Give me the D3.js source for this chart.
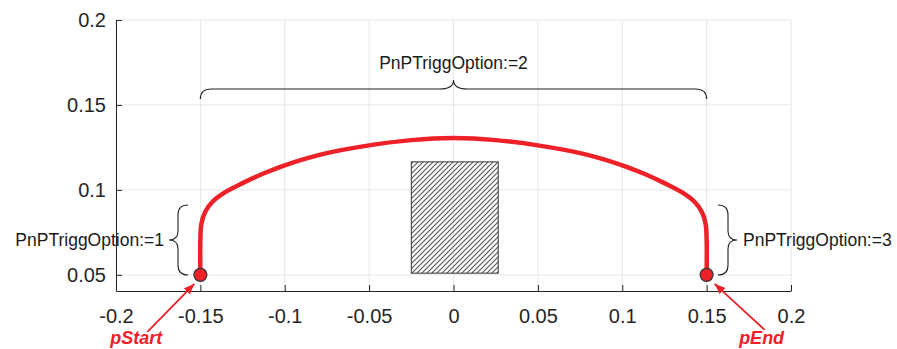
<!DOCTYPE html>
<html>
<head>
<meta charset="utf-8">
<script src="https://cdn.jsdelivr.net/npm/d3@7"></script>
<style>
  body { margin: 0; background: #fff; }
  text { font-family: "Liberation Sans", Arial, sans-serif; }
</style>
</head>
<body>
<div id="chart"></div>
<script>
// path of the tool between the two points
const pathX = [-0.15, -0.15, -0.1494, -0.1472, -0.1428, -0.1355, -0.125, -0.113, -0.100, -0.077, -0.050, -0.025, 0,
               0.025, 0.050, 0.077, 0.100, 0.113, 0.125, 0.1355, 0.1428, 0.1472, 0.1494, 0.15, 0.15];
const pathY = [0.05, 0.071, 0.080, 0.0870, 0.0930, 0.0985, 0.1040, 0.1095, 0.1145, 0.1212, 0.1262, 0.1293, 0.1305,
               0.1293, 0.1262, 0.1212, 0.1145, 0.1095, 0.1040, 0.0985, 0.0930, 0.0870, 0.080, 0.071, 0.05];

// obstacle (hatched box)
const boxX = [-0.025, 0.0265];
const boxY = [0.051, 0.1165];

// start / end points
const pointNames = ["pStart", "pEnd"];
const pointX = [-0.15, 0.15];
const pointY = [0.05, 0.05];

const xTicks = [-0.2, -0.15, -0.1, -0.05, 0, 0.05, 0.1, 0.15, 0.2];
const xTickLabels = ["-0.2", "-0.15", "-0.1", "-0.05", "0", "0.05", "0.1", "0.15", "0.2"];
const yTicks = [0.05, 0.1, 0.15, 0.2];
const yTickLabels = ["0.05", "0.1", "0.15", "0.2"];

const width = 897, height = 349,
      margin = ({top: 20, right: 106, bottom: 58, left: 116});

const red = "#ee2028", ink = "#262626";

let svg = d3.select("#chart")
    .append("svg")
    .attr("width", width)
    .attr("height", height)
    .attr("viewBox", [0, 0, width, height]);

let x = d3.scaleLinear()
    .domain([-0.2, 0.2])
    .range([margin.left, width - margin.right]);

let y = d3.scaleLinear()
    .domain([0.0405, 0.2])
    .range([height - margin.bottom, margin.top]);

// grid
svg.append("g")
    .selectAll("line")
    .data(xTicks)
    .join("line")
    .attr("x1", d => x(d)).attr("x2", d => x(d))
    .attr("y1", y.range()[0]).attr("y2", y.range()[1])
    .attr("stroke", "#e6e6e6");

svg.append("g")
    .selectAll("line")
    .data(yTicks)
    .join("line")
    .attr("x1", x.range()[0]).attr("x2", x.range()[1])
    .attr("y1", d => y(d)).attr("y2", d => y(d))
    .attr("stroke", "#e6e6e6");

// axes, ticks inside like matlab
let xAxis = svg.append("g")
    .attr("transform", `translate(0,${y.range()[0]})`)
    .call(d3.axisBottom(x)
        .tickValues(xTicks)
        .tickFormat((d, i) => xTickLabels[i])
        .tickSize(-6)
        .tickSizeOuter(0)
        .tickPadding(18));

let yAxis = svg.append("g")
    .attr("transform", `translate(${x.range()[0]},0)`)
    .call(d3.axisLeft(y)
        .tickValues(yTicks)
        .tickFormat((d, i) => yTickLabels[i])
        .tickSize(-6)
        .tickSizeOuter(0)
        .tickPadding(10));

for (let ax of [xAxis, yAxis]) {
    ax.selectAll("path, line").attr("stroke", ink);
    ax.selectAll("text")
        .attr("fill", ink)
        .style("font-size", "20px")
        .style("font-family", "'Liberation Sans', Arial, sans-serif");
}

// hatched obstacle
let defs = svg.append("defs");
defs.append("pattern")
    .attr("id", "hatch")
    .attr("patternUnits", "userSpaceOnUse")
    .attr("width", 5)
    .attr("height", 5)
    .append("path")
    .attr("d", "M0,5 L5,0 M-1,1 L1,-1 M4,6 L6,4")
    .attr("stroke", "#5a5a5a")
    .attr("stroke-width", 1.2);

svg.append("rect")
    .attr("x", x(boxX[0]))
    .attr("y", y(boxY[1]))
    .attr("width", x(boxX[1]) - x(boxX[0]))
    .attr("height", y(boxY[0]) - y(boxY[1]))
    .attr("fill", "url(#hatch)")
    .attr("stroke", "#333")
    .attr("stroke-width", 1);

// tool path
let line = d3.line()
    .x(d => x(d[0]))
    .y(d => y(d[1]))
    .curve(d3.curveCatmullRom.alpha(0.5));

svg.append("path")
    .datum(pathX.map((v, i) => [v, pathY[i]]))
    .attr("d", line)
    .attr("fill", "none")
    .attr("stroke", red)
    .attr("stroke-width", 4.5)
    .attr("stroke-linecap", "round")
    .attr("stroke-linejoin", "round");

// braces
let braceG = svg.append("g")
    .attr("fill", "none")
    .attr("stroke", "#222")
    .attr("stroke-width", 1.1);

// top brace
{
    let x1 = x(-0.15), x2 = x(0.15), xm = (x1 + x2) / 2;
    let yEnd = 99, yH = 89, yTip = 80, r = 11;
    braceG.append("path").attr("d",
        `M${x1},${yEnd} Q${x1},${yH} ${x1 + r},${yH} L${xm - 14},${yH} ` +
        `Q${xm},${yH} ${xm},${yTip} Q${xm},${yH} ${xm + 14},${yH} ` +
        `L${x2 - r},${yH} Q${x2},${yH} ${x2},${yEnd}`);
}
// left and right braces
for (let side of [-1, 1]) {
    let xe = side < 0 ? 188 : 718, xs = xe + side * 10, xt = xs + side * 9;
    let y1 = 205, y2 = 275, ym = (y1 + y2) / 2;
    braceG.append("path").attr("d",
        `M${xe},${y1} Q${xs},${y1} ${xs},${y1 + 10} L${xs},${ym - 9} ` +
        `Q${xs},${ym} ${xt},${ym} Q${xs},${ym} ${xs},${ym + 9} ` +
        `L${xs},${y2 - 10} Q${xs},${y2} ${xe},${y2}`);
}

let labelG = svg.append("g")
    .attr("fill", "#1a1a1a")
    .style("font-size", "17.5px");
labelG.append("text").attr("x", x(0)).attr("y", 69).attr("text-anchor", "middle").text("PnPTriggOption:=2");
labelG.append("text").attr("x", 164).attr("y", 246).attr("text-anchor", "end").text("PnPTriggOption:=1");
labelG.append("text").attr("x", 743).attr("y", 246).attr("text-anchor", "start").text("PnPTriggOption:=3");

// arrows to the points
defs.append("marker")
    .attr("id", "head")
    .attr("viewBox", "0 0 10 10")
    .attr("refX", 10).attr("refY", 5)
    .attr("markerWidth", 6).attr("markerHeight", 6)
    .attr("markerUnits", "strokeWidth")
    .attr("orient", "auto")
    .append("path")
    .attr("d", "M0,1 L10,5 L0,9 Z")
    .attr("fill", red);

const arrowTail = [[-53, 57], [58, 55]];
const arrowTip = [[-6, 9], [8, 9]];
const labelPos = [[-64, 69.5], [55, 69.5]];

pointNames.forEach((name, i) => {
    let px = x(pointX[i]), py = y(pointY[i]);
    svg.append("line")
        .attr("x1", px + arrowTail[i][0]).attr("y1", py + arrowTail[i][1])
        .attr("x2", px + arrowTip[i][0]).attr("y2", py + arrowTip[i][1])
        .attr("stroke", red)
        .attr("stroke-width", 1.8)
        .attr("marker-end", "url(#head)");
    svg.append("text")
        .attr("x", px + labelPos[i][0])
        .attr("y", py + labelPos[i][1])
        .attr("text-anchor", "middle")
        .attr("fill", red)
        .style("font-size", "18px")
        .style("font-weight", "bold")
        .style("font-style", "italic")
        .text(name);
});

// start / end markers
svg.append("g")
    .selectAll("circle")
    .data(pointX)
    .join("circle")
    .attr("cx", d => x(d))
    .attr("cy", (d, i) => y(pointY[i]))
    .attr("r", 6.5)
    .attr("fill", red)
    .attr("stroke", "#333")
    .attr("stroke-width", 1.2);
</script>
</body>
</html>
